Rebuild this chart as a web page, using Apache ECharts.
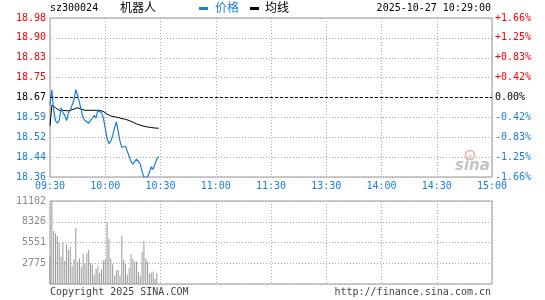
<!DOCTYPE html>
<html>
<head>
<meta charset="utf-8">
<script src="https://cdn.jsdelivr.net/npm/echarts@6/dist/echarts.min.js"></script>
<style>
  html, body { margin: 0; padding: 0; background: #fff; }
  #chart { width: 545px; height: 300px; }
</style>
</head>
<body>
<div id="chart"></div>
<script>
// 分时数据 sz300024 机器人 2025-10-27
const preClose = 18.67;
const timeLabels = ['09:30', '10:00', '10:30', '11:00', '11:30', '13:30', '14:00', '14:30', '15:00'];
const priceLabels = ['18.36', '18.44', '18.52', '18.59', '18.67', '18.75', '18.83', '18.90', '18.98'];
const pctLabels = ['-1.66%', '-1.25%', '-0.83%', '-0.42%', '0.00%', '+0.42%', '+0.83%', '+1.25%', '+1.66%'];
const volLabels = ['', '2775', '5551', '8326', '11102'];

// 每分钟价格
const priceData = [
  18.64, 18.70, 18.62, 18.58, 18.57, 18.58, 18.63, 18.61, 18.60, 18.58,
  18.61, 18.62, 18.62, 18.66, 18.70, 18.68, 18.65, 18.62, 18.59, 18.58,
  18.58, 18.57, 18.58, 18.59, 18.60, 18.59, 18.62, 18.62, 18.61, 18.59,
  18.55, 18.51, 18.49, 18.50, 18.52, 18.55, 18.575, 18.54, 18.50, 18.475,
  18.48, 18.48, 18.46, 18.44, 18.42, 18.41, 18.42, 18.43, 18.43, 18.41,
  18.38, 18.36, 18.36, 18.36, 18.38, 18.40, 18.39, 18.41, 18.43, 18.44
];

// 均价
const avgData = [
  18.56, 18.64, 18.635, 18.63, 18.625, 18.62, 18.62, 18.62, 18.62, 18.618,
  18.62, 18.62, 18.622, 18.625, 18.628, 18.63, 18.628, 18.625, 18.623, 18.62,
  18.62, 18.62, 18.62, 18.62, 18.62, 18.62, 18.62, 18.62, 18.618, 18.615,
  18.61, 18.605, 18.60, 18.598, 18.596, 18.595, 18.594, 18.592, 18.59, 18.588,
  18.587, 18.585, 18.583, 18.58, 18.577, 18.574, 18.57, 18.567, 18.564, 18.562,
  18.56, 18.558, 18.556, 18.555, 18.554, 18.553, 18.552, 18.551, 18.551, 18.55
];

// 成交量（手）
const volData = [
  3670, 11102, 7077, 6767, 6457, 5484, 3670, 5617, 3096, 5351,
  4556, 4954, 2433, 3273, 7519, 2963, 3406, 2256, 4025, 2787,
  4158, 4556, 2787, 2565, 1238, 1990, 2433, 1460, 1990, 3185,
  3273, 8183, 6015, 3361, 2654, 1150, 1769, 1902, 1106, 6457,
  3229, 2654, 1238, 2123, 4025, 3361, 3008, 3008, 1681, 1150,
  4290, 5750, 3406, 3008, 1415, 1548, 1681, 708, 1460
];

const BLUE = '#1a7fd4';
const RED = '#ff0000';
const GREY = '#999';
const MONO = 'DejaVu Sans Mono';
const CJK = 'Noto Sans CJK SC';

const toPct = p => (p / preClose - 1) * 100;
const tickIndex = v => Math.round((v + 1.66) / 0.415);
const tickColor = v => (v > 0.001 ? RED : (v < -0.001 ? BLUE : '#000'));

const dotted = { color: '#aaa', type: [1, 2], width: 1 };

const chart = echarts.init(document.getElementById('chart'));

const option = {
  animation: false,
  grid: [
    { left: 50, right: 53, top: 18, height: 159, show: true, borderColor: GREY, borderWidth: 1 },
    { left: 50, right: 53, top: 201, height: 83, show: true, borderColor: GREY, borderWidth: 1 }
  ],
  xAxis: [
    {
      type: 'value', gridIndex: 0, min: 0, max: 240, interval: 30,
      axisLine: { show: false }, axisTick: { show: false },
      axisLabel: {
        formatter: v => timeLabels[Math.round(v / 30)],
        color: BLUE, fontFamily: MONO, fontSize: 10, margin: 4
      },
      splitLine: { show: true, lineStyle: dotted }
    },
    {
      type: 'value', gridIndex: 1, min: 0, max: 240, interval: 30,
      axisLine: { show: false }, axisTick: { show: false },
      axisLabel: { show: false },
      splitLine: { show: true, lineStyle: dotted }
    }
  ],
  yAxis: [
    {
      type: 'value', gridIndex: 0, position: 'left', min: -1.66, max: 1.66, interval: 0.415,
      axisLine: { show: false }, axisTick: { show: false },
      axisLabel: {
        formatter: v => priceLabels[tickIndex(v)],
        color: v => tickColor(v),
        fontFamily: MONO, fontSize: 10, margin: 4
      },
      splitLine: { show: true, lineStyle: dotted }
    },
    {
      type: 'value', gridIndex: 0, position: 'right', min: -1.66, max: 1.66, interval: 0.415,
      axisLine: { show: false }, axisTick: { show: false },
      axisLabel: {
        formatter: v => pctLabels[tickIndex(v)],
        color: v => tickColor(v),
        fontFamily: MONO, fontSize: 10, margin: 3
      },
      splitLine: { show: false }
    },
    {
      type: 'value', gridIndex: 1, min: 0, max: 11102, interval: 2775.5,
      axisLine: { show: false }, axisTick: { show: false },
      axisLabel: {
        formatter: v => volLabels[Math.round(v / 2775.5)],
        color: '#888', fontFamily: MONO, fontSize: 10, margin: 4
      },
      splitLine: { show: true, lineStyle: dotted }
    }
  ],
  series: [
    {
      name: '成交量', type: 'bar', xAxisIndex: 1, yAxisIndex: 2,
      data: volData.map((v, i) => [i, v]),
      barWidth: 1,
      itemStyle: { color: GREY }
    },
    {
      name: '均线', type: 'line', xAxisIndex: 0, yAxisIndex: 0,
      data: avgData.map((p, i) => [i, toPct(p)]),
      showSymbol: false,
      lineStyle: { color: '#000', width: 1 },
      z: 3
    },
    {
      name: '价格', type: 'line', xAxisIndex: 0, yAxisIndex: 0,
      data: priceData.map((p, i) => [i, toPct(p)]),
      showSymbol: false,
      lineStyle: { color: BLUE, width: 1.2 },
      z: 4,
      markLine: {
        silent: true, symbol: 'none',
        label: { show: false },
        lineStyle: { color: '#000', type: [3, 2], width: 1 },
        data: [{ yAxis: 0 }]
      }
    }
  ],
  graphic: [
    { type: 'text', left: 50, top: 3, style: { text: 'sz300024', font: '10px ' + MONO, fill: '#000' } },
    { type: 'text', left: 120, top: 1, style: { text: '机器人', font: '12px "' + CJK + '"', fill: '#000' } },
    { type: 'rect', shape: { x: 199, y: 7, width: 9, height: 3 }, style: { fill: BLUE } },
    { type: 'text', left: 215, top: 1, style: { text: '价格', font: '12px "' + CJK + '"', fill: BLUE } },
    { type: 'rect', shape: { x: 250, y: 7, width: 9, height: 3 }, style: { fill: '#000' } },
    { type: 'text', left: 265, top: 1, style: { text: '均线', font: '12px "' + CJK + '"', fill: '#000' } },
    { type: 'text', right: 54, top: 3, style: { text: '2025-10-27 10:29:00', font: '10px ' + MONO, fill: '#000' } },
    // 新浪水印
    { type: 'circle', shape: { cx: 470, cy: 155, r: 4.5 }, style: { fill: 'none', stroke: '#eba8a8', lineWidth: 1.5 } },
    { type: 'circle', shape: { cx: 470, cy: 156, r: 1.8 }, style: { fill: '#d8d8d8' } },
    { type: 'text', left: 455, top: 159, style: { text: 'sina', font: 'italic bold 15px "DejaVu Sans"', fill: '#c4c4c4' } },
    // 底部
    { type: 'text', left: 50, top: 287, style: { text: 'Copyright 2025 SINA.COM', font: '10px ' + MONO, fill: '#444' } },
    { type: 'text', right: 54, top: 287, style: { text: 'http://finance.sina.com.cn', font: '10px ' + MONO, fill: '#444' } }
  ]
};

chart.setOption(option);
</script>
</body>
</html>
